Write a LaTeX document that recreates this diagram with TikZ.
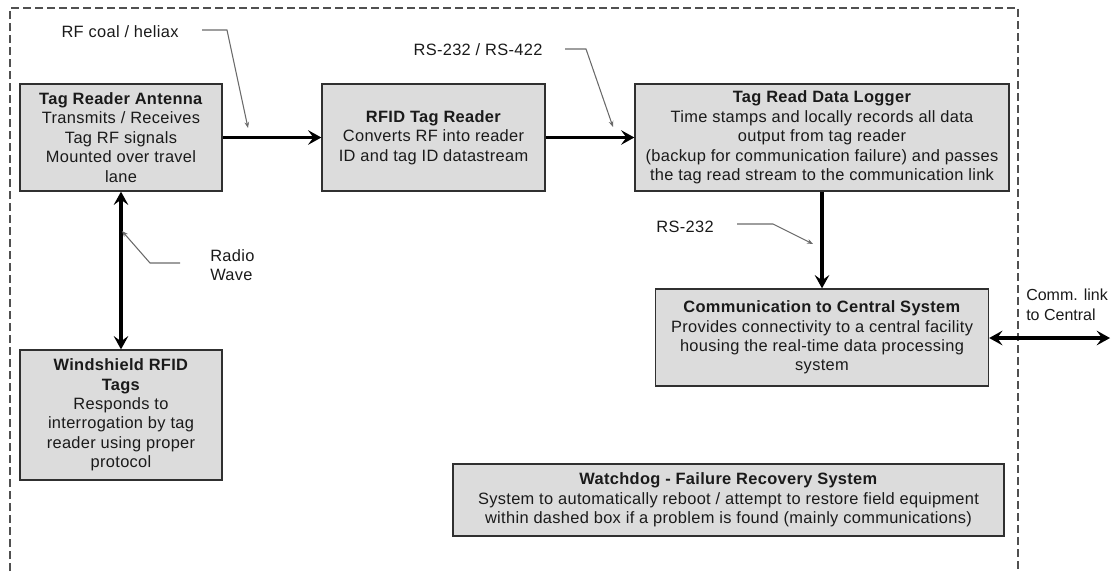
\documentclass[tikz,border=0pt]{standalone}
\usepackage{fontspec}
\setmainfont{Liberation Sans}[LetterSpace=2]
\usetikzlibrary{arrows.meta}
\definecolor{boxfill}{HTML}{DCDCDC}
\definecolor{boxline}{HTML}{303030}
\definecolor{leadc}{HTML}{6A6A6A}
\definecolor{dashc}{HTML}{505050}
\definecolor{txt}{HTML}{1A1A1A}
\begin{document}
\begin{tikzpicture}[x=0.75pt,y=-0.75pt,
  every node/.style={font=\fontsize{12.3}{14.6}\selectfont, text=txt},
  blk/.style 2 args={draw=boxline, line width=1pt, fill=boxfill,
    minimum width=#1*0.75pt, minimum height=#2*0.75pt, inner sep=0pt, align=center},
  lbl/.style={inner sep=0pt, align=left},
  tipbig/.tip={Stealth[length=10pt,width=11pt,inset=4pt]},
  flow/.style={line width=2.5pt, -tipbig},
  flowboth/.style={line width=2.5pt, tipbig-tipbig},
  lead/.style={draw=leadc, line width=0.8pt, -{Stealth[length=4.5pt,width=3.5pt]}},
  dashbox/.style={draw=dashc, line width=0.9pt, dash pattern=on 6pt off 3pt}]
\useasboundingbox (0,0) rectangle (1112,571);

% dashed enclosure
\draw[dashbox] (10,571) -- (10,8) -- (1018,8) -- (1018,571);

% blocks
\node[blk={202}{107}] (ant) at (121,137.5) {\textbf{Tag Reader Antenna}\\Transmits / Receives\\Tag RF signals\\Mounted over travel\\lane};
\node[blk={223}{107}] (rdr) at (433.5,137.5) {\textbf{RFID Tag Reader}\\Converts RF into reader\\ID and tag ID datastream};
\node[blk={374}{107}] (log) at (822,137.5) {\textbf{Tag Read Data Logger}\\Time stamps and locally records all data\\output from tag reader\\(backup for communication failure) and passes\\the tag read stream to the communication link};
\node[blk={333}{97}] (com) at (822,337.5) {\textbf{Communication to Central System}\\Provides connectivity to a central facility\\housing the real-time data processing\\system};
\node[blk={202}{130}] (wsh) at (121,415) {\textbf{Windshield RFID}\\\textbf{Tags}\\Responds to\\interrogation by tag\\reader using proper\\protocol};
\node[blk={551}{72}] (wd) at (728.5,500) {\textbf{Watchdog - Failure Recovery System}\\System to automatically reboot / attempt to restore field equipment\\within dashed box if a problem is found (mainly communications)};

% labels
\node[lbl] (rfl) at (120,32) {RF coal / heliax};
\node[lbl] (rsl) at (478,50) {RS-232 / RS-422};
\node[lbl] (rs2) at (685,227) {RS-232};
\node[lbl, anchor=west] (rw) at (210,265) {Radio\\Wave};
\node[lbl, anchor=west, font=\fontsize{12}{14.6}\selectfont\addfontfeature{LetterSpace=0}] (cl) at (1026,305) {Comm. link\\to Central};

% main connectors
\coordinate (ext) at (1110,338);
\draw[flow] (ant.east) -- (rdr.west);
\draw[flow] (rdr.east) -- (log.west);
\draw[flow] (log.south) -- (com.north);
\draw[flowboth] (ant.south) -- (wsh.north);
\draw[flowboth] (com.east |- ext) -- (ext);

% leader lines
\coordinate (rf1) at (202,30);  \coordinate (rf2) at (227,30);  \coordinate (rf3) at (248,128);
\coordinate (rs1) at (565,49);  \coordinate (rs2a) at (586,49); \coordinate (rs3) at (613,127);
\coordinate (rt1) at (737,224); \coordinate (rt2) at (773,224); \coordinate (rt3) at (813,244);
\coordinate (rw1) at (180,263); \coordinate (rw2) at (150,263); \coordinate (rw3) at (122,231);
\draw[lead] (rf1) -- (rf2) -- (rf3);
\draw[lead] (rs1) -- (rs2a) -- (rs3);
\draw[lead] (rt1) -- (rt2) -- (rt3);
\draw[lead] (rw1) -- (rw2) -- (rw3);
\end{tikzpicture}
\end{document}
